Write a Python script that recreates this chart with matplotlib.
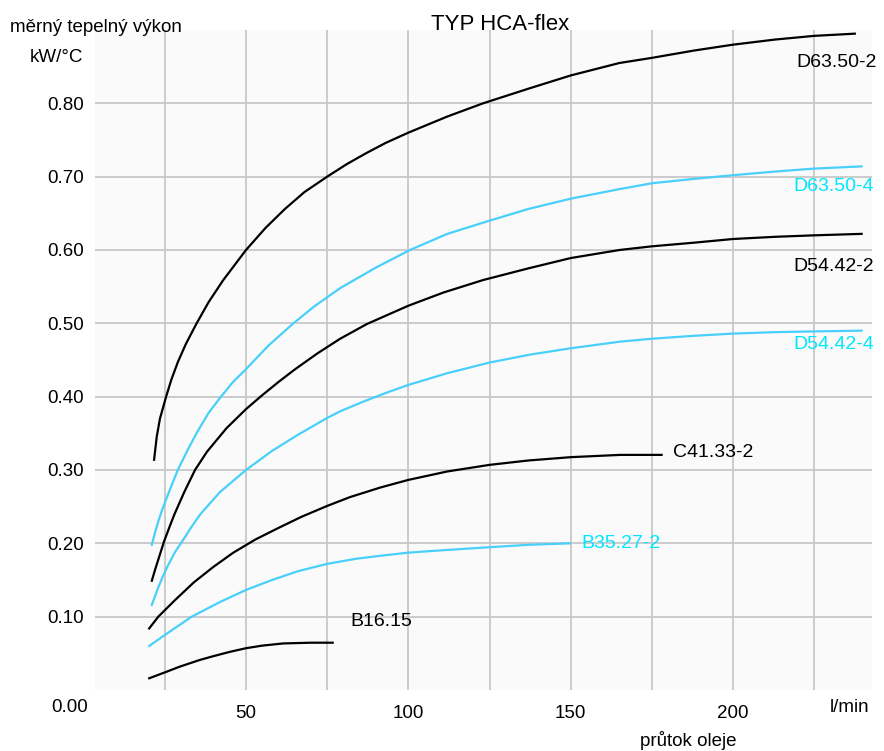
import matplotlib
matplotlib.use("Agg")
import matplotlib.pyplot as plt

plt.rcParams['font.family'] = ['Liberation Sans', 'DejaVu Sans']

# values: flow (l/min) vs. specific heat output (kW/°C)
d6350_2_x = [21.7, 22.5, 23.5, 25.4, 27, 29, 31.5, 34.8, 38.5, 43, 50, 56, 62, 68, 75, 81, 87, 93, 100, 112, 123, 137, 150, 165, 175, 188, 200, 213, 225, 237.5]
d6350_2_y = [0.314, 0.345, 0.37, 0.40, 0.423, 0.447, 0.472, 0.50, 0.529, 0.559, 0.60, 0.63, 0.656, 0.679, 0.70, 0.717, 0.732, 0.746, 0.76, 0.782, 0.80, 0.82, 0.838, 0.855, 0.862, 0.872, 0.880, 0.887, 0.892, 0.895]

d6350_4_x = [21.0, 22, 23, 24.2, 25.5, 27, 29, 32, 35, 38.5, 42.3, 46, 50, 57, 64.6, 71, 79, 90, 100.5, 112, 125, 137, 150, 165, 175, 188, 200, 213, 225, 239.6]
d6350_4_y = [0.198, 0.215, 0.23, 0.246, 0.261, 0.278, 0.30, 0.327, 0.352, 0.378, 0.40, 0.42, 0.4375, 0.47, 0.50, 0.523, 0.548, 0.576, 0.60, 0.622, 0.640, 0.656, 0.670, 0.683, 0.691, 0.697, 0.702, 0.707, 0.711, 0.714]

d5442_2_x = [21.0, 22, 23, 24.8, 26.5, 28, 31, 34.3, 38, 44, 50, 55, 60, 65, 72, 79, 87.2, 100, 110.8, 123, 137, 150, 165, 175, 188, 200, 213, 225, 239.6]
d5442_2_y = [0.149, 0.164, 0.178, 0.203, 0.223, 0.24, 0.27, 0.30, 0.325, 0.357, 0.383, 0.402, 0.420, 0.437, 0.459, 0.479, 0.499, 0.524, 0.542, 0.559, 0.575, 0.589, 0.600, 0.605, 0.610, 0.615, 0.618, 0.620, 0.622]

d5442_4_x = [21.0, 22, 23, 24.5, 26, 28, 30.7, 33, 36, 42, 50, 58, 66, 75, 79, 86, 93, 100, 112, 125, 137, 150, 165.2, 175, 188, 200, 213, 225, 239.6]
d5442_4_y = [0.116, 0.128, 0.14, 0.156, 0.17, 0.187, 0.205, 0.221, 0.24, 0.27, 0.30, 0.326, 0.348, 0.371, 0.380, 0.393, 0.405, 0.416, 0.432, 0.4465, 0.457, 0.466, 0.475, 0.479, 0.483, 0.486, 0.488, 0.489, 0.490]

c4133_2_x = [20.2, 23, 28, 34, 40, 46, 52.8, 60, 67, 75, 82, 91.3, 100, 112, 125, 137, 150, 165.2, 178]
c4133_2_y = [0.084, 0.10, 0.122, 0.147, 0.168, 0.187, 0.205, 0.221, 0.236, 0.251, 0.263, 0.276, 0.2865, 0.298, 0.307, 0.313, 0.3175, 0.3206, 0.3206]

b3527_2_x = [20.2, 25, 33.3, 42, 50, 58, 66, 75, 84, 91.3, 100, 112, 125, 137, 149.8]
b3527_2_y = [0.060, 0.075, 0.10, 0.12, 0.1364, 0.150, 0.162, 0.172, 0.179, 0.183, 0.1873, 0.191, 0.1947, 0.198, 0.200]

b1615_x = [20.2, 25, 29.7, 35.8, 40, 45, 50, 55, 61.5, 70, 76.7]
b1615_y = [0.016, 0.024, 0.032, 0.041, 0.0462, 0.052, 0.057, 0.0605, 0.0635, 0.0645, 0.0645]

black = '#000000'
blue = '#48d0fa'
label_cyan = '#00e6ff'

fig = plt.figure(figsize=(8.84, 7.51), dpi=100)
ax = fig.add_axes([95 / 884, 1 - 690 / 751, 777 / 884, 660 / 751])
ax.set_facecolor('#fafafa')

ax.plot(d6350_2_x, d6350_2_y, color=black, lw=1.6)
ax.plot(d6350_4_x, d6350_4_y, color=blue, lw=1.6)
ax.plot(d5442_2_x, d5442_2_y, color=black, lw=1.6)
ax.plot(d5442_4_x, d5442_4_y, color=blue, lw=1.6)
ax.plot(c4133_2_x, c4133_2_y, color=black, lw=1.6)
ax.plot(b3527_2_x, b3527_2_y, color=blue, lw=1.6)
ax.plot(b1615_x, b1615_y, color=black, lw=1.6)

fs = 13.5
lfs = 14
ax.text(219.5, 0.856, 'D63.50-2', color=black, fontsize=lfs, va='center')
ax.text(218.7, 0.687, 'D63.50-4', color=label_cyan, fontsize=lfs, va='center')
ax.text(218.7, 0.577, 'D54.42-2', color=black, fontsize=lfs, va='center')
ax.text(218.5, 0.471, 'D54.42-4', color=label_cyan, fontsize=lfs, va='center')
ax.text(181.5, 0.3235, 'C41.33-2', color=black, fontsize=lfs, va='center')
ax.text(153.4, 0.1995, 'B35.27-2', color=label_cyan, fontsize=lfs, va='center')
ax.text(82.0, 0.0933, 'B16.15', color=black, fontsize=lfs, va='center')

ax.set_xlim(3.5, 242.8)
ax.set_ylim(0, 0.9)
ax.set_xticks([25, 50, 75, 100, 125, 150, 175, 200, 225])
ax.set_xticklabels(['', '50', '', '100', '', '150', '', '200', ''])
ax.set_yticks([0.1, 0.2, 0.3, 0.4, 0.5, 0.6, 0.7, 0.8])
ax.set_yticklabels(['0.10', '0.20', '0.30', '0.40', '0.50', '0.60', '0.70', '0.80'])
ax.tick_params(length=0, labelsize=fs)
ax.tick_params(axis='x', pad=11)
ax.tick_params(axis='y', pad=8)
ax.grid(True, color='#c8c8c8', lw=1.3)
ax.set_axisbelow(True)
for s in ax.spines.values():
    s.set_visible(False)

fig.text(70 / 884, 1 - 708 / 751, '0.00', fontsize=fs, ha='center', va='center')
fig.text(850 / 884, 1 - 708 / 751, 'l/min', fontsize=fs, ha='center', va='center')
fig.text(688 / 884, 1 - 740 / 751, 'průtok oleje', fontsize=fs, ha='center', va='center')
fig.text(10 / 884, 1 - 27 / 751, 'měrný tepelný výkon', fontsize=fs, ha='left', va='center')
fig.text(56 / 884, 1 - 58 / 751, 'kW/°C', fontsize=fs, ha='center', va='center')
fig.text(500 / 884, 1 - 25 / 751, 'TYP HCA-flex', fontsize=16, ha='center', va='center')

fig.savefig('out.png', dpi=100)
